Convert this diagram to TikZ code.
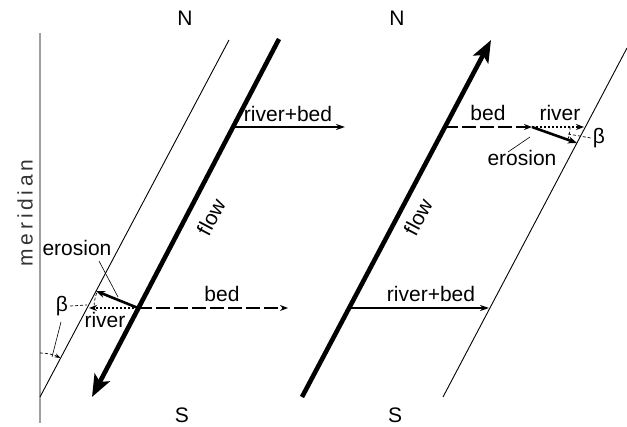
\documentclass[tikz,border=0pt]{standalone}
\usepackage{fontspec}
\setmainfont{Liberation Sans}
\newfontfamily\spacedfont[LetterSpace=18]{Liberation Sans}
\usetikzlibrary{arrows.meta}
\begin{document}
\begin{tikzpicture}[x=1pt,y=1pt,
 lbl/.style={font=\fontsize{21}{25}\selectfont, inner sep=0pt},
 bank/.style={line width=0.9pt},
 flowline/.style={line width=4.6pt, -{Stealth[length=22pt,width=17pt,inset=5pt]}},
 solidarrow/.style={line width=1.7pt, -{Stealth[length=9pt,width=6pt]}},
 dasharrow/.style={line width=2pt, dash pattern=on 14pt off 4pt, -{Stealth[length=8pt,width=6pt]}},
 dotarrow/.style={line width=2pt, dash pattern=on 2pt off 2pt, -{Stealth[length=8pt,width=6pt]}},
 erosarrow/.style={line width=2.6pt, -{Stealth[length=9pt,width=7pt]}},
 leader/.style={line width=0.6pt},
 anglemark/.style={line width=0.7pt, dash pattern=on 3pt off 2pt},
]
\useasboundingbox (0,0) rectangle (627,-427);
% meridian
\coordinate (mt) at (40,-33);
\coordinate (mb) at (40,-423);
\draw[gray!75, line width=1.5pt] (mt) -- (mb);
\node[lbl, rotate=90, text=black!80] (mer) at (25,-213) {\spacedfont meridian};
% N / S
\node[lbl] (n1) at (185,-18) {N};
\node[lbl] (n2) at (397,-18) {N};
\node[lbl] (s1) at (182,-415) {S};
\node[lbl] (s2) at (395,-415) {S};
% ---------- left panel ----------
\coordinate (lbt) at (229,-40);
\coordinate (lbb) at (40,-397);
\coordinate (lft) at (279,-39);
\coordinate (lfb) at (92,-397);
\draw[bank] (lbt) -- (lbb);
\draw[flowline] (lft) -- (lfb);
\node[lbl, rotate=62.2] (flowL) at (211,-217) {flow};
% upper river+bed
\coordinate (lj1) at (233,-127);
\coordinate (le1) at (345,-127);
\draw[solidarrow] (lj1) -- (le1);
\node[lbl, anchor=base] (lrb) at (288,-122) {river+bed};
% lower junction
\coordinate (lj2) at (138,-308);
\coordinate (lbe) at (288,-308);
\coordinate (lre) at (89,-308);
\coordinate (lee) at (96,-291);
\draw[dasharrow] (lj2) -- (lbe);
\draw[dotarrow] (lj2) -- (lre);
\draw[erosarrow] (lj2) -- (lee);
\node[lbl, anchor=base] (lbed) at (222,-302) {bed};
\node[lbl, anchor=base] (lriv) at (105,-328) {river};
\node[lbl, anchor=base] (lero) at (77,-256) {erosion};
\coordinate (lerot) at (99,-261);
\coordinate (lerob) at (118,-297);
\draw[leader] (lerot) -- (lerob);
% beta angles left
\node[lbl] (betaL) at (62,-306) {β};
\draw[anglemark] (lj2) ++(160:44pt) arc[start angle=160, end angle=180, radius=44pt];
\coordinate (lbm) at (87,-305);
\draw[anglemark] (betaL.east) ++(2pt,0) -- (lbm);
\draw[anglemark, -{Stealth[length=6pt,width=4pt]}] (lbb) ++(90:44pt) arc[start angle=90, end angle=62.2, radius=44pt];
\coordinate (lbl1) at (61,-322);
\coordinate (lbl2) at (52,-357);
\draw[leader] (lbl1) -- (lbl2);
% ---------- right panel ----------
\coordinate (rfb) at (302,-397);
\coordinate (rft) at (491,-40);
\coordinate (rbb) at (443,-397);
\coordinate (rbt) at (627,-48);
\draw[bank] (rbb) -- (rbt);
\draw[flowline] (rfb) -- (rft);
\node[lbl, rotate=62.2] (flowR) at (418,-217) {flow};
% upper junction
\coordinate (rj1) at (444,-127);
\coordinate (rj2) at (532,-127);
\coordinate (rre) at (584,-127);
\coordinate (ree) at (577,-143);
\draw[dasharrow] (rj1) -- (rj2);
\draw[dotarrow] (rj2) -- (rre);
\draw[erosarrow] (rj2) -- (ree);
\node[lbl, anchor=base] (rbed) at (488,-121) {bed};
\node[lbl, anchor=base] (rriv) at (560,-121) {river};
\node[lbl, anchor=base] (rero) at (522,-166) {erosion};
\coordinate (rerot) at (508,-152);
\coordinate (rerob) at (530,-137);
\draw[leader] (rerot) -- (rerob);
\node[lbl] (betaR) at (599,-138) {β};
\draw[anglemark] (rj2) ++(-19:38pt) arc[start angle=-19, end angle=0, radius=38pt];
\coordinate (rbm) at (568,-134);
\draw[anglemark] (rbm) -- ([xshift=-2pt]betaR.west);
% lower river+bed
\coordinate (rj3) at (349,-308);
\coordinate (rrb) at (489,-308);
\draw[solidarrow] (rj3) -- (rrb);
\node[lbl, anchor=base] (rrbl) at (431,-302) {river+bed};
\end{tikzpicture}
\end{document}
